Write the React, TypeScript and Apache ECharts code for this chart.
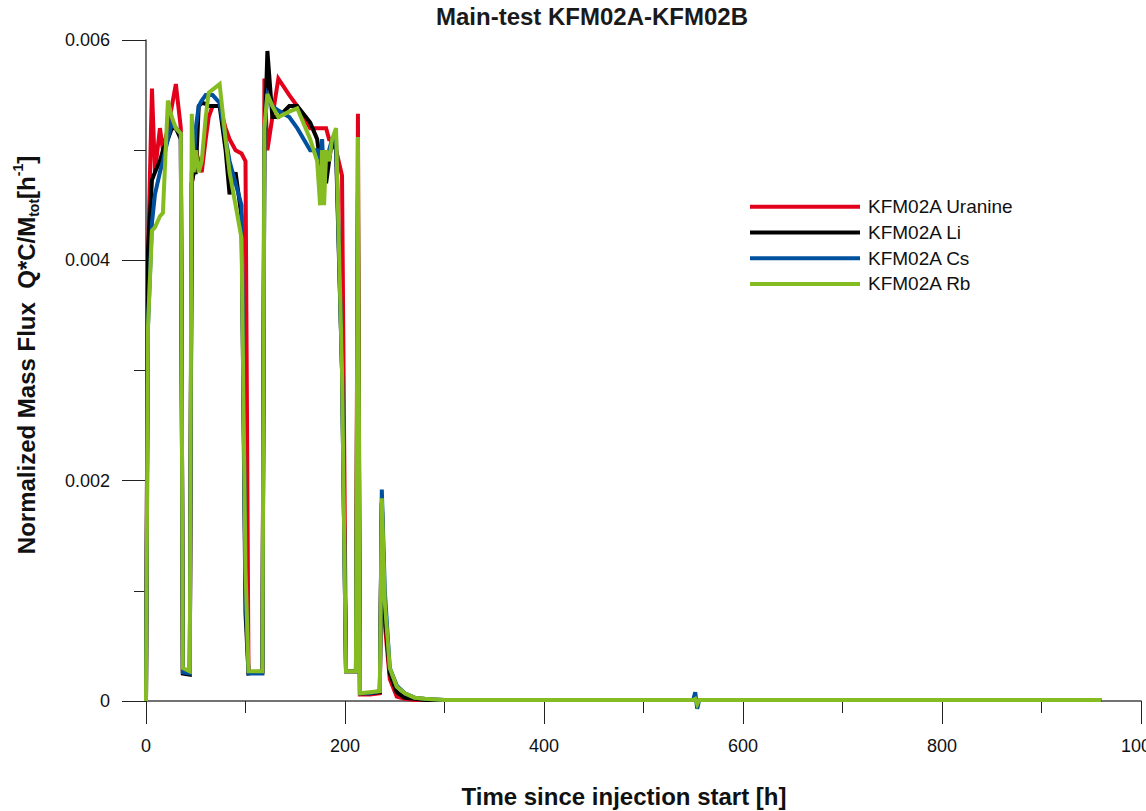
import React, { useEffect, useRef } from "react";
import * as echarts from "echarts";

const timeH = [0, 2, 6, 9, 14, 17, 22, 26, 30, 35, 37, 44, 46, 48, 50, 53, 56, 60, 63, 67, 74, 80, 84, 90, 96, 100, 103, 117, 119, 122, 127, 133, 144, 152, 165, 172, 175, 177, 179, 181, 184, 187, 191, 197, 201, 211, 213, 215, 225, 235, 237, 240, 245, 252, 260, 270, 280, 300, 350, 400, 450, 500, 550, 552, 554, 556, 600, 650, 700, 800, 900, 960];

const uranine = [0, 0.004, 0.00556, 0.0048, 0.0052, 0.005, 0.0052, 0.0054, 0.0056, 0.0052, 0.00027, 0.00026, 0.0047, 0.0048, 0.005, 0.0049, 0.0048, 0.0051, 0.0053, 0.0054, 0.0054, 0.0052, 0.0051, 0.005, 0.00497, 0.0049, 0.00026, 0.00026, 0.00565, 0.005, 0.0053, 0.00565, 0.0055, 0.0054, 0.0052, 0.0052, 0.0052, 0.0052, 0.0052, 0.0052, 0.0051, 0.0051, 0.005, 0.00477, 0.00027, 0.00027, 0.00533, 0.00006, 0.00006, 0.00007, 0.0018, 0.0007, 0.0002, 0.00004, 0.00002, 0.00001, 0.00001, 0.00001, 0.00001, 0.00001, 0.00001, 0.00001, 0.00001, 0.00001, 0.00001, 0.00001, 0.00001, 0.00001, 0.00001, 0.00001, 0.00001, 0.00001];

const lithium = [0, 0.0041, 0.00473, 0.0048, 0.0049, 0.005, 0.0051, 0.0052, 0.0052, 0.0051, 0.00025, 0.00024, 0.0047, 0.0048, 0.0048, 0.0054, 0.00543, 0.00542, 0.0054, 0.0054, 0.0054, 0.005, 0.0046, 0.0048, 0.0044, 0.0008, 0.00025, 0.00027, 0.005, 0.0059, 0.0053, 0.0053, 0.0054, 0.0054, 0.00525, 0.0051, 0.0049, 0.0047, 0.005, 0.0047, 0.0049, 0.0051, 0.005, 0.003, 0.00027, 0.00027, 0.0046, 0.00007, 0.00007, 0.00008, 0.0018, 0.0008, 0.00025, 0.00008, 0.00003, 0.00002, 0.00001, 0.00001, 0.00001, 0.00001, 0.00001, 0.00001, 0.00001, 0.00001, 0.00001, 0.00001, 0.00001, 0.00001, 0.00001, 0.00001, 0.00001, 0.00001];

const cesium = [0, 0.0034, 0.00434, 0.0046, 0.0048, 0.0049, 0.0051, 0.00525, 0.0052, 0.00515, 0.00026, 0.00025, 0.0048, 0.0049, 0.0052, 0.0054, 0.00545, 0.0055, 0.0055, 0.0055, 0.00543, 0.0051, 0.0049, 0.0047, 0.0045, 0.001, 0.00025, 0.00025, 0.0052, 0.0055, 0.0054, 0.00536, 0.0053, 0.0052, 0.005, 0.005, 0.0049, 0.0051, 0.0047, 0.0049, 0.005, 0.0051, 0.0051, 0.003, 0.00027, 0.00027, 0.0033, 0.00007, 0.00007, 0.00009, 0.00192, 0.001, 0.0003, 0.00014, 0.00007, 0.00003, 0.00002, 0.00001, 0.00001, 0.00001, 0.00001, 0.00001, 0.00001, 0.00008, -0.00007, 0.00001, 0.00001, 0.00001, 0.00001, 0.00001, 0.00001, 0.00001];

const rubidium = [0, 0.0034, 0.00427, 0.0043, 0.0044, 0.00443, 0.00545, 0.0053, 0.0052, 0.00515, 0.0003, 0.00027, 0.00533, 0.0048, 0.005, 0.0048, 0.0049, 0.0053, 0.00552, 0.00555, 0.0056, 0.0051, 0.0048, 0.0045, 0.0042, 0.0012, 0.00027, 0.00027, 0.0052, 0.00551, 0.0054, 0.0053, 0.00535, 0.00538, 0.0051, 0.0049, 0.0045, 0.005, 0.0045, 0.005, 0.0049, 0.0051, 0.0052, 0.003, 0.00027, 0.00027, 0.00512, 0.00007, 0.00008, 0.00009, 0.00184, 0.0009, 0.0003, 0.00013, 0.00007, 0.00003, 0.00002, 0.00001, 0.00001, 0.00001, 0.00001, 0.00001, 0.00001, 0.00002, -0.00003, 0.00001, 0.00001, 0.00001, 0.00001, 0.00001, 0.00001, 0.00001];

const seriesNames = ["KFM02A Uranine", "KFM02A Li", "KFM02A Cs", "KFM02A Rb"];
const seriesColors = ["#e3001b", "#000000", "#0050a0", "#85bc22"];
const seriesValues = [uranine, lithium, cesium, rubidium];

const xTicks = [0, 200, 400, 600, 800, 1000];
const yTicks = [0, 0.002, 0.004, 0.006];

const FONT = "'Liberation Sans', Arial, Helvetica, sans-serif";

export default function App() {
  const ref = useRef<HTMLDivElement>(null);

  useEffect(() => {
    if (!ref.current) return;
    const chart = echarts.init(ref.current, undefined, { renderer: "svg" });
    const option: any = {
      animation: false,
      backgroundColor: "#ffffff",
      title: {
        text: "Main-test KFM02A-KFM02B",
        left: 592,
        top: 4,
        padding: 0,
        textAlign: "center",
        textStyle: { fontFamily: FONT, fontSize: 24, fontWeight: "bold", color: "#1a1a1a" },
      },
      legend: {
        orient: "vertical",
        left: 750,
        top: 194,
        itemWidth: 110,
        itemHeight: 4,
        itemGap: 0,
        icon: "rect",
        padding: 0,
        textStyle: { fontFamily: FONT, fontSize: 19, color: "#111", lineHeight: 25.7, padding: [0, 0, 0, 3] },
        data: seriesNames,
      },
      grid: { left: 146, top: 40, right: 5, bottom: 110, containLabel: false, outerBoundsMode: "none" },
      xAxis: {
        type: "value",
        min: xTicks[0],
        max: xTicks[xTicks.length - 1],
        interval: 200,
        axisLine: { show: true, lineStyle: { color: "#444", width: 1.5 } },
        axisTick: { show: true, inside: false, length: 23, lineStyle: { color: "#222", width: 1 } },
        minorTick: { show: true, splitNumber: 2, length: 12, lineStyle: { color: "#222", width: 1 } },
        splitLine: { show: false },
        axisLabel: {
          margin: 36,
          fontFamily: FONT,
          fontSize: 18,
          color: "#111",
          hideOverlap: false,
          formatter: (v: number) => String(Math.round(v)),
        },
      },
      yAxis: {
        type: "value",
        min: yTicks[0],
        max: yTicks[yTicks.length - 1],
        interval: 0.002,
        axisLine: { show: true, lineStyle: { color: "#444", width: 1.5 } },
        axisTick: { show: true, inside: false, length: 24, lineStyle: { color: "#222", width: 1 } },
        minorTick: { show: true, splitNumber: 2, length: 12, lineStyle: { color: "#222", width: 1 } },
        splitLine: { show: false },
        axisLabel: {
          margin: 36,
          fontFamily: FONT,
          fontSize: 18,
          color: "#111",
          formatter: (v: number) => (Math.abs(v) < 1e-12 ? "0" : v.toFixed(3)),
        },
      },
      graphic: [
        {
          type: "text",
          x: 624,
          y: 796,
          style: {
            text: "Time since injection start [h]",
            fontFamily: FONT,
            fontSize: 24,
            fontWeight: "bold",
            fill: "#111",
            align: "center",
            verticalAlign: "middle",
          },
        },
        {
          type: "text",
          x: 26,
          y: 355,
          rotation: Math.PI / 2,
          style: {
            text: "{m|Normalized Mass Flux  Q*C/M}{sub|tot}{m|[h}{sup|-1}{m|]}",
            fontFamily: FONT,
            fontSize: 24,
            fontWeight: "bold",
            fill: "#111",
            align: "center",
            verticalAlign: "middle",
            rich: {
              m: { fontFamily: FONT, fontSize: 24, fontWeight: "bold", fill: "#111", lineHeight: 30, verticalAlign: "middle" },
              sub: { fontFamily: FONT, fontSize: 14, fontWeight: "bold", fill: "#111", lineHeight: 14, verticalAlign: "bottom" },
              sup: { fontFamily: FONT, fontSize: 14, fontWeight: "bold", fill: "#111", lineHeight: 14, verticalAlign: "top" },
            },
          },
        },
      ],
      series: seriesNames.map((name, k) => ({
        name,
        type: "line",
        data: timeH.map((t, i) => [t, seriesValues[k][i]]),
        showSymbol: false,
        symbol: "none",
        clip: false,
        lineStyle: { color: seriesColors[k], width: 4, join: "miter" },
        itemStyle: { color: seriesColors[k] },
        z: 2 + k,
      })),
    };
    chart.setOption(option);
    return () => chart.dispose();
  }, []);

  return (
    <div
      ref={ref}
      style={{ position: "absolute", left: 0, top: 0, width: 1146, height: 811 }}
    />
  );
}
